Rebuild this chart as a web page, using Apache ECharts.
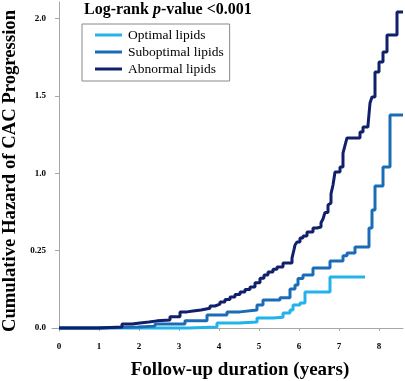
<!DOCTYPE html>
<html><head><meta charset="utf-8">
<script src="https://cdn.jsdelivr.net/npm/echarts@6/dist/echarts.min.js"></script>
<style>html,body{margin:0;padding:0;background:#fff}#c{width:405px;height:381px}</style>
</head><body><div id="c"></div>
<script>
const seriesNames = ['Optimal lipids', 'Suboptimal lipids', 'Abnormal lipids'];
const yTickValues = [0, 0.25, 1.0, 1.5, 2.0];
const yTickLabels = ['0.0', '0.25', '1.0', '1.5', '2.0'];
const xTickValues = [0, 1, 2, 3, 4, 5, 6, 7, 8];

const optimalYears  = [0, 2.275, 3.25, 3.95, 4.5, 4.95, 5.35, 5.6, 5.775, 5.85, 6.025, 6.15, 6.775, 7.65];
const optimalHazard = [0, 0, 0.003, 0.016, 0.019, 0.032, 0.035, 0.048, 0.058, 0.074, 0.081, 0.116, 0.165, 0.165];

const suboptimalYears  = [0, 0.975, 1.975, 2.4, 3.15, 3.7, 4.2, 4.525, 4.95, 5.1, 5.525, 5.775, 5.9, 5.975, 6.1, 6.35, 6.775, 7.1, 7.2, 7.4, 7.75, 7.825, 7.9, 8.1, 8.275, 8.6];
const suboptimalHazard = [0, 0.003, 0.006, 0.013, 0.023, 0.042, 0.052, 0.058, 0.074, 0.090, 0.098, 0.126, 0.139, 0.160, 0.171, 0.194, 0.216, 0.233, 0.242, 0.285, 0.469, 0.644, 0.876, 1.040, 1.376, 1.376];

const abnormalYears  = [0, 0.975, 1.575, 1.825, 2.025, 2.25, 2.45, 2.775, 3.025, 3.2, 3.35, 3.55, 3.775, 3.9, 4.025, 4.15, 4.275, 4.4, 4.525, 4.65, 4.775, 4.9, 5.025, 5.125, 5.225, 5.35, 5.45, 5.6, 5.825, 5.875, 5.9, 5.95, 6.025, 6.1, 6.2, 6.35, 6.45, 6.55, 6.6, 6.65, 6.725, 6.775, 6.8, 6.85, 6.9, 7.025, 7.1, 7.15, 7.2, 7.525, 7.6, 7.725, 7.775, 7.825, 7.9, 8.0, 8.1, 8.2, 8.45, 8.6];
const abnormalHazard = [0, 0.003, 0.013, 0.016, 0.019, 0.023, 0.026, 0.036, 0.052, 0.055, 0.058, 0.064, 0.071, 0.077, 0.084, 0.092, 0.100, 0.108, 0.116, 0.124, 0.132, 0.146, 0.161, 0.171, 0.181, 0.190, 0.197, 0.210, 0.226, 0.260, 0.304, 0.333, 0.372, 0.392, 0.430, 0.469, 0.479, 0.520, 0.556, 0.620, 0.692, 0.711, 0.800, 0.886, 1.008, 1.040, 1.130, 1.180, 1.228, 1.266, 1.298, 1.311, 1.453, 1.492, 1.654, 1.718, 1.783, 1.893, 2.041, 2.041];

// The axis is drawn with equally spaced ticks for unequal values (broken scale)
function scaleY(v) {
  const t = yTickValues;
  for (let i = 0; i < t.length - 1; i++) {
    if (v <= t[i + 1] || i === t.length - 2) {
      return i + (v - t[i]) / (t[i + 1] - t[i]);
    }
  }
}
function build(xs, ys) { return xs.map((x, i) => [x, scaleY(ys[i])]); }

const colors = ['#22b3ea', '#1a6cb6', '#10206a'];
const serif = '"Liberation Serif", "Times New Roman", serif';
const yTickPos = yTickValues.map((v, i) => i);

const chart = echarts.init(document.getElementById('c'), null, {renderer: 'canvas'});
chart.setOption({
  animation: false,
  backgroundColor: '#fff',
  color: colors,
  title: {
    text: '{b|Log-rank }{i|p}{b|-value <0.001}',
    left: 84, top: 2, padding: 0,
    textStyle: {
      rich: {
        b: {fontFamily: serif, fontWeight: 'bold', fontSize: 16, color: '#000'},
        i: {fontFamily: serif, fontWeight: 'bold', fontStyle: 'italic', fontSize: 16, color: '#000'}
      }
    }
  },
  legend: {
    orient: 'vertical',
    left: 82, top: 24,
    padding: [4, 6, 5, 13],
    borderColor: '#888', borderWidth: 1,
    itemWidth: 27, itemHeight: 3, itemGap: 3,
    icon: 'rect',
    textStyle: {fontFamily: serif, fontSize: 13.5, color: '#000', lineHeight: 14, padding: [0, 0, 0, 1]},
    data: seriesNames
  },
  grid: {left: 52, right: 2, top: 2, bottom: 50, containLabel: false, outerBoundsMode: 'none'},
  xAxis: {
    type: 'value', min: -0.175, max: 8.6,
    name: 'Follow-up duration (years)', nameLocation: 'middle', nameGap: 30,
    nameTextStyle: {fontFamily: serif, fontWeight: 'bold', fontSize: 19, color: '#000', padding: [0, 0, 0, 25]},
    axisLine: {show: true, lineStyle: {color: '#a6a6a6', width: 1}},
    axisTick: {show: true, customValues: xTickValues, length: 3, lineStyle: {color: '#a6a6a6'}},
    axisLabel: {customValues: xTickValues, margin: 11, fontFamily: serif, fontWeight: 'bold', fontSize: 9, color: '#000'},
    splitLine: {show: false}
  },
  yAxis: {
    type: 'value', min: -0.039, max: 4.212,
    name: 'Cumulative Hazard of CAC Progression', nameLocation: 'middle', nameGap: 31,
    nameTextStyle: {fontFamily: serif, fontWeight: 'bold', fontSize: 18.7, color: '#000', padding: [0, 9, 0, 0]},
    axisLine: {show: true, lineStyle: {color: '#a6a6a6', width: 1}},
    axisTick: {show: true, customValues: yTickPos, length: 4, lineStyle: {color: '#a6a6a6'}},
    axisLabel: {customValues: yTickPos, margin: 6, fontFamily: serif, fontWeight: 'bold', fontSize: 9, color: '#000',
      formatter: v => yTickLabels[Math.round(v)]},
    splitLine: {show: false}
  },
  series: [
    {name: seriesNames[0], type: 'line', step: 'end', showSymbol: false, data: build(optimalYears, optimalHazard), lineStyle: {width: 3, color: colors[0]}, z: 3},
    {name: seriesNames[1], type: 'line', step: 'end', showSymbol: false, data: build(suboptimalYears, suboptimalHazard), lineStyle: {width: 3, color: colors[1]}, z: 4},
    {name: seriesNames[2], type: 'line', step: 'end', showSymbol: false, data: build(abnormalYears, abnormalHazard), lineStyle: {width: 3, color: colors[2]}, z: 5}
  ]
});
</script></body></html>
